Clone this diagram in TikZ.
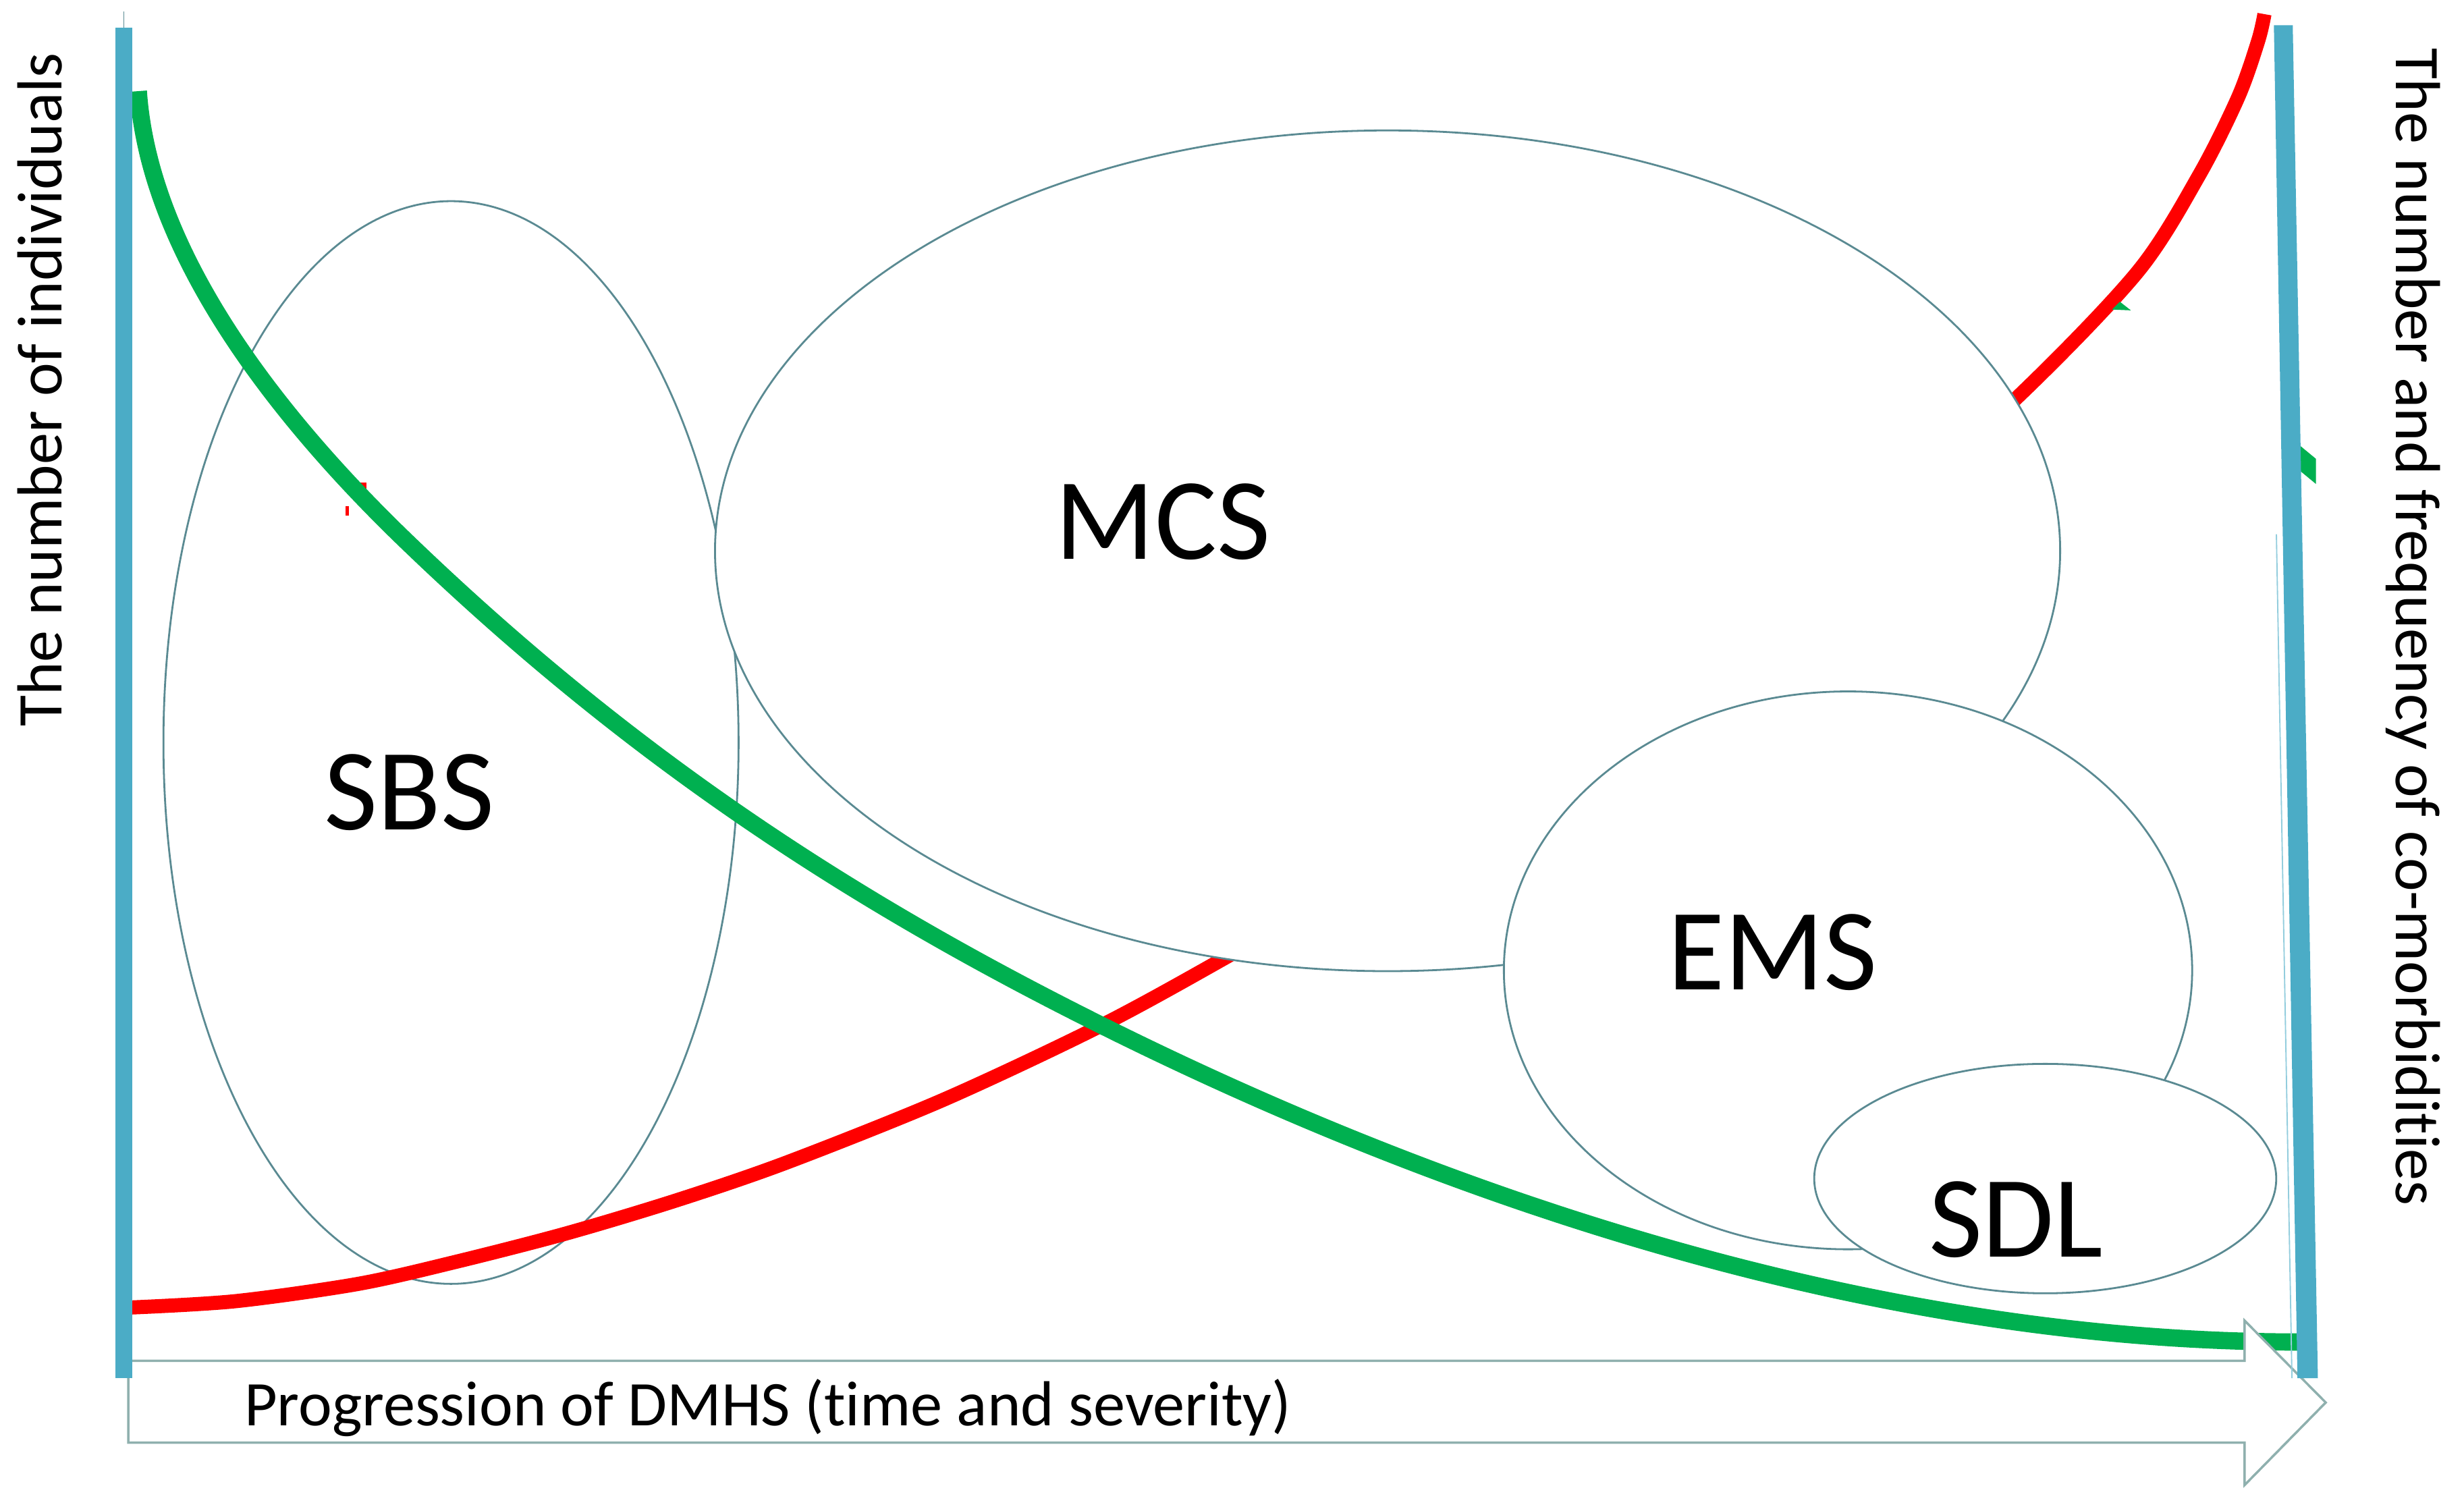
\documentclass[tikz,border=0pt]{standalone}
\usepackage{fontspec}
\setmainfont{Carlito}[Ligatures=NoCommon]
\usetikzlibrary{shapes.geometric}

\definecolor{axisblue}{HTML}{4BACC6}
\definecolor{curvegreen}{HTML}{00B050}
\definecolor{curvered}{HTML}{FF0000}
\definecolor{rimgray}{HTML}{5A8A92}
\definecolor{arrowgray}{HTML}{8FB0AE}

\begin{document}
\begin{tikzpicture}[x=1pt,y=-1pt,
	blob/.style={shape=ellipse,draw=rimgray,line width=1.2pt,inner sep=0pt},
	bigtxt/.style={font=\fontsize{74}{80}\selectfont,anchor=base},
	axtxt/.style={font=\fontsize{40.5}{44}\selectfont,anchor=base}]
	\useasboundingbox (0,0) rectangle (1568,959);
	
	\node[blob,minimum width=366pt,minimum height=689pt] (sbs) at (287,472.5) {};
	
	\draw[curvered,line width=9pt] plot[smooth] coordinates {(84,832) (150,828) (228,817) (290,803) (360,785) (430,764) (500,740) (600,700) (698,654) (777,611) (900,540) (1030,460) (1160,365) (1284.6,252) (1360.6,172.6) (1399.7,111) (1424.4,61.6) (1437,26) (1441,9)};
	\fill[curvered] (229,307) rectangle (233,316);
	\fill[curvered] (220,322) rectangle (222,328);
	
	\draw[curvegreen,line width=11pt] (88,58) .. controls (95,160) and (174,262) .. (254,340)
		.. controls (404,485.5) and (548,576) .. (698,651)
		.. controls (948,776) and (1213,854) .. (1463,854);
	\fill[curvegreen] (1463.5,283.5) -- (1473.8,292) -- (1473.8,308) -- (1463.5,299.5) -- cycle;
	\fill[curvegreen] (1344,197) -- (1356,197.5) -- (1349,192) -- cycle;
	
	\node[blob,fill=white,minimum width=856pt,minimum height=535pt] (mcs) at (883,350.5) {};
	\node[blob,fill=white,minimum width=438pt,minimum height=355pt] (ems) at (1176,617.5) {};
	\node[blob,fill=white,minimum width=294pt,minimum height=146pt] (sdl) at (1301.5,750) {};
	
	\node[bigtxt] (sbstxt) at (260.5,528) {SBS};
	\node[bigtxt] (mcstxt) at (740,356) {MCS};
	\node[bigtxt] (emstxt) at (1128,630) {EMS};
	\node[bigtxt] (sdltxt) at (1283,800) {SDL};
	
	% time axis
	\draw[arrowgray,line width=1.5pt,fill=white] (81.6,866) -- (1428.4,866) -- (1428.4,840.4) -- (1480,892.5) -- (1428.4,945) -- (1428.4,918) -- (81.6,918) -- cycle;
	\node[axtxt,anchor=base west] (prog) at (152,907.3) {Progression of DMHS (time and severity)};
	
	% side bars
	\fill[axisblue] (73.4,17.5) rectangle (84.2,877);
	\draw[rimgray,line width=0.8pt] (78.8,7.5) -- (78.8,17.5);
	\fill[axisblue] (1447,16) -- (1459,16) -- (1475,877) -- (1462,877) -- cycle;
	\draw[axisblue!60,line width=0.8pt] (1448.6,340) -- (1458.5,877);
	
	\node[axtxt,rotate=90] (leftlab) at (39.5,248) {The number of individuals};
	\node[axtxt,rotate=-90] (rightlab) at (1525,399) {The number and frequency of co-morbidities};
	
\end{tikzpicture}
\end{document}
